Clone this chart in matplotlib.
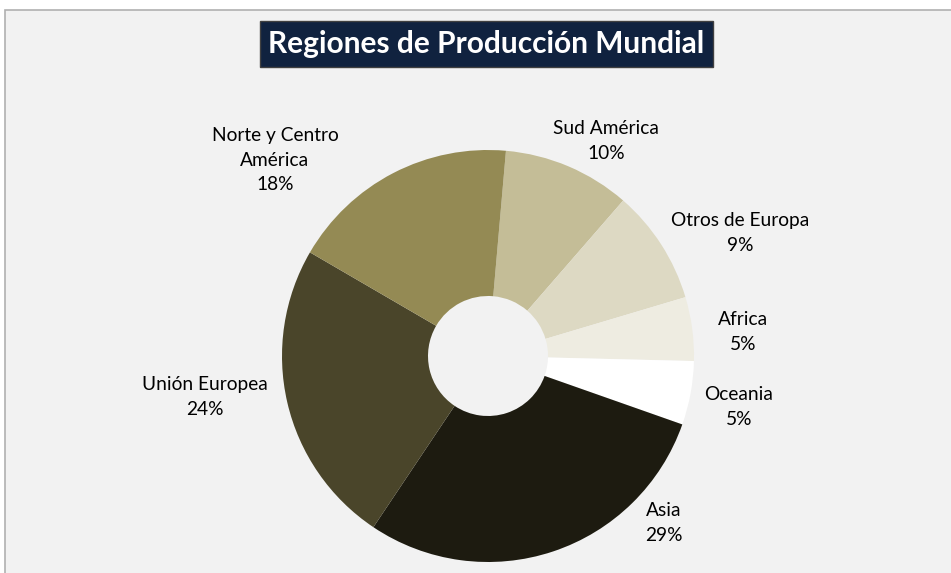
import matplotlib.pyplot as plt
from matplotlib.patches import Rectangle

# datos del grafico
regiones = ['Sud América', 'Otros de Europa', 'Africa', 'Oceania', 'Asia',
            'Unión Europea', 'Norte y Centro\nAmérica']
porcentajes = [10, 9, 5, 5, 29, 24, 18]
colores = ['#c4bd97', '#ddd9c3', '#eeece1', '#ffffff', '#1d1b10', '#4a452a', '#948a54']

# posicion de las etiquetas (en unidades del radio del pastel)
pos_etiquetas = [(0.573, 1.044), (1.223, 0.597), (1.238, 0.117), (1.218, -0.248),
                 (0.854, -0.811), (-1.374, -0.199), (-1.034, 0.951)]

W, H = 951, 573
cx, cy, R = 488, 356, 206

fig = plt.figure(figsize=(W / 100, H / 100), dpi=100)
fig.patch.set_facecolor('white')

# fondo del area del grafico
fig.patches.append(Rectangle((5 / W, -0.01), 1.0, (H - 10) / H + 0.01,
                             transform=fig.transFigure, facecolor='#f2f2f2',
                             edgecolor='#b0b0b0', linewidth=1.2, zorder=-5))

ax = fig.add_axes([0, 0, 1, 1])
ax.set_facecolor('none')
ax.set_zorder(1)
ax.pie(porcentajes, colors=colores, startangle=85, counterclock=False,
       radius=1.0, wedgeprops=dict(width=1 - 60 / R, linewidth=0))
ax.set_xlim(-cx / R, (W - cx) / R)
ax.set_ylim((cy - H) / R, cy / R)
ax.set_aspect('equal')
ax.axis('off')

for nombre, p, (x, y) in zip(regiones, porcentajes, pos_etiquetas):
    ax.text(x, y, nombre + '\n' + str(p) + '%', ha='center', va='center',
            fontsize=13.8, family='Lato', color='#000000', linespacing=1.55)

# titulo en caja oscura
fig.patches.append(Rectangle((260 / W, 1 - 67 / H), 453 / W, 46 / H,
                             transform=fig.transFigure, facecolor='#10223f',
                             edgecolor='#404040', linewidth=1, zorder=2))
fig.text(486.5 / W, 1 - 44 / H, 'Regiones de Producción Mundial', ha='center',
         va='center', fontsize=21.5, fontweight='bold', family='Lato',
         color='white', zorder=3)

plt.savefig('out.png', dpi=100)
plt.close()
